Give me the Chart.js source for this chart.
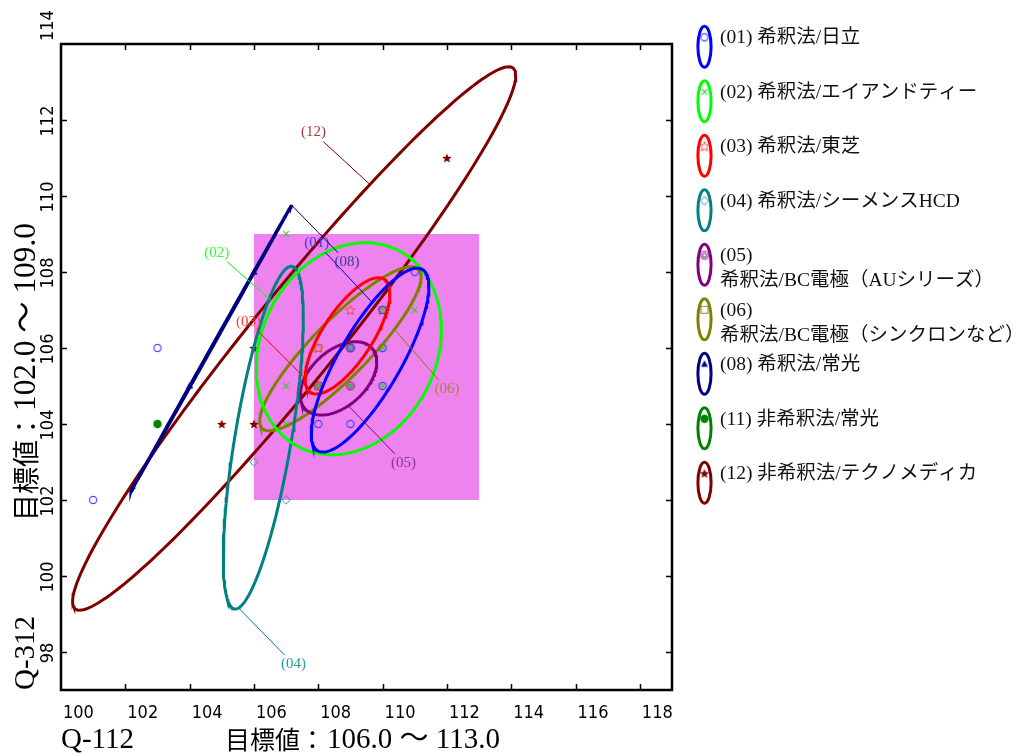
<!DOCTYPE html>
<html>
<head>
<meta charset="utf-8">
<script src="https://cdn.jsdelivr.net/npm/chart.js@4.4.1/dist/chart.umd.min.js"></script>
<style>
  html, body { margin: 0; padding: 0; background: #fff; }
  #wrap { position: relative; width: 1021px; height: 756px; }
</style>
</head>
<body>
<div id="wrap"><canvas id="chart"></canvas></div>
<script>
// axes
const xMin = 100, xMax = 119, yMin = 97, yMax = 114;
const xTicks = [100, 102, 104, 106, 108, 110, 112, 114, 116, 118];
const yTicks = [98, 100, 102, 104, 106, 108, 110, 112, 114];
const targetX = [106, 113];
const targetY = [102, 109];
const xTitleCode = 'Q-112';
const xTitleRange = '目標値：106.0 ～ 113.0';
const yTitleCode = 'Q-312';
const yTitleRange = '目標値：102.0 ～ 109.0';

// series
const codes = ['01', '02', '03', '04', '05', '06', '08', '11', '12'];
const names = ['希釈法/日立', '希釈法/エイアンドティー', '希釈法/東芝', '希釈法/シーメンスHCD',
  '希釈法/BC電極（AUシリーズ）', '希釈法/BC電極（シンクロンなど）', '希釈法/常光', '非希釈法/常光', '非希釈法/テクノメディカ'];
const colors = ['#0000ff', '#00ff00', '#ff0000', '#008080', '#800080', '#808000', '#000080', '#008000', '#800000'];
const markerColors = ['#4444ff', '#33cc33', '#ff4444', '#33a0a0', '#8a2a8a', '#8a8a30', '#000080', '#008000', '#800000'];
const labelColors = ['#3b3bff', '#33ff33', '#ff3b3b', '#2a9a9a', '#8a3a8a', '#a8844a', '#3a3a8a', '#008000', '#a03a3a'];
const markers = ['circle', 'cross', 'starOpen', 'diamond', 'bullseye', 'square', 'triangle', 'dot', 'star'];

// measured points
const x01 = [101, 103, 108, 109, 110, 110, 110, 109, 111];
const y01 = [102, 106, 104, 104, 105, 106, 107, 106, 108];
const x02 = [107, 107, 107, 111, 110, 109, 110, 108, 109, 110];
const y02 = [109, 105, 104, 107, 107, 106, 106, 105, 105, 105];
const x03 = [109, 108, 110, 108];
const y03 = [107, 106, 107, 105];
const x04 = [106, 107];
const y04 = [103, 102];
const x05 = [109, 108, 109];
const y05 = [106, 105, 105];
const x06 = [108, 110, 108];
const y06 = [106, 107, 105];
const x08 = [104, 106];
const y08 = [105, 108];
const x11 = [103];
const y11 = [104];
const x12 = [112, 105, 106, 106];
const y12 = [111, 104, 104, 106];
const pointsX = [x01, x02, x03, x04, x05, x06, x08, x11, x12];
const pointsY = [y01, y02, y03, y04, y05, y06, y08, y11, y12];

// ellipse parameters: centre, half width, half height, correlation
const ellCx = [109.61, 108.95, 108.91, 106.29, 108.63, 108.69, 104.67, null, 107.25];
const ellCy = [105.68, 105.98, 106.32, 103.64, 105.20, 105.98, 105.99, null, 106.25];
const ellWx = [1.83, 2.88, 1.32, 1.245, 1.19, 2.51, 2.50, null, 6.89];
const ellWy = [2.42, 2.79, 1.53, 4.51, 0.965, 2.16, 3.77, null, 7.15];
const ellRho = [0.80, 0.18, 0.73, 0.70, 0.45, 0.88, 0.99997, null, 0.968];

// code labels and the ellipse angle their leader points at
const lblX = [107.95, 104.84, 105.83, 107.23, 110.65, 112.0, 108.89, null, 107.85];
const lblY = [108.76, 108.51, 106.69, 97.68, 102.98, 104.91, 108.27, null, 111.67];
const lblT = [88, 144, 180, 232, 285, 312, 0, null, 70];

function ellipsePoint(i, deg) {
  const t = deg * Math.PI / 180;
  const s = Math.sqrt(1 - ellRho[i] * ellRho[i]);
  return {
    x: ellCx[i] + ellWx[i] * Math.cos(t),
    y: ellCy[i] + ellWy[i] * (ellRho[i] * Math.cos(t) + s * Math.sin(t))
  };
}

function starPath(ctx, cx, cy, ro, ri) {
  ctx.beginPath();
  for (let k = 0; k < 10; k++) {
    const r = k % 2 === 0 ? ro : ri;
    const a = -Math.PI / 2 + k * Math.PI / 5;
    const px = cx + r * Math.cos(a), py = cy + r * Math.sin(a);
    if (k === 0) ctx.moveTo(px, py); else ctx.lineTo(px, py);
  }
  ctx.closePath();
}

function makeMarker(style, color) {
  const c = document.createElement('canvas');
  c.width = 16; c.height = 16;
  const ctx = c.getContext('2d');
  const m = 8;
  ctx.strokeStyle = color;
  ctx.fillStyle = color;
  ctx.lineWidth = 1.2;
  if (style === 'circle') {
    ctx.beginPath(); ctx.arc(m, m, 3.6, 0, Math.PI * 2); ctx.stroke();
  } else if (style === 'cross') {
    ctx.beginPath();
    ctx.moveTo(m - 2.8, m - 2.8); ctx.lineTo(m + 2.8, m + 2.8);
    ctx.moveTo(m + 2.8, m - 2.8); ctx.lineTo(m - 2.8, m + 2.8);
    ctx.stroke();
  } else if (style === 'starOpen') {
    ctx.lineWidth = 1;
    starPath(ctx, m, m + 0.5, 5, 2.3); ctx.stroke();
  } else if (style === 'diamond') {
    ctx.lineWidth = 1;
    ctx.beginPath();
    ctx.moveTo(m, m - 4.2); ctx.lineTo(m + 4.2, m); ctx.lineTo(m, m + 4.2); ctx.lineTo(m - 4.2, m);
    ctx.closePath(); ctx.stroke();
  } else if (style === 'bullseye') {
    ctx.lineWidth = 1.1;
    ctx.beginPath(); ctx.arc(m, m, 4, 0, Math.PI * 2); ctx.stroke();
    ctx.beginPath(); ctx.arc(m, m, 2, 0, Math.PI * 2); ctx.stroke();
  } else if (style === 'square') {
    ctx.lineWidth = 1;
    ctx.strokeRect(m - 3.5, m - 3.5, 7, 7);
  } else if (style === 'triangle') {
    ctx.beginPath();
    ctx.moveTo(m, m - 4); ctx.lineTo(m + 3.5, m + 2.5); ctx.lineTo(m - 3.5, m + 2.5);
    ctx.closePath(); ctx.fill();
  } else if (style === 'dot') {
    ctx.beginPath(); ctx.arc(m, m, 4.2, 0, Math.PI * 2); ctx.fill();
  } else if (style === 'star') {
    starPath(ctx, m, m + 0.5, 5, 2.2); ctx.fill();
  }
  return c;
}

const markerImgs = markers.map((s, i) => makeMarker(s, markerColors[i]));

const datasets = [];
codes.forEach((code, i) => {
  if (ellCx[i] === null) return;
  const pts = [];
  for (let d = 0; d <= 360; d += 2) pts.push(ellipsePoint(i, d));
  datasets.push({
    label: 'ellipse ' + code,
    data: pts,
    showLine: true,
    borderColor: colors[i],
    borderWidth: 3,
    pointRadius: 0,
    fill: false,
    tension: 0
  });
});
codes.forEach((code, i) => {
  datasets.push({
    label: '(' + code + ') ' + names[i],
    data: pointsX[i].map((x, k) => ({ x: x, y: pointsY[i][k] })),
    showLine: false,
    pointStyle: markerImgs[i],
    pointRadius: 5
  });
});

const tickFont = '18px "Liberation Sans Narrow", "DejaVu Sans Condensed", "Arial Narrow", sans-serif';
const serifFont = '"Liberation Serif", "Noto Sans CJK JP", serif';
const cjkFont = '"Noto Sans CJK JP", sans-serif';

// draws "目標値：" in gothic and the numbers in serif, starting at 0,0
function drawRangeTitle(ctx, text, k) {
  const cut = text.indexOf('：') + 1;
  const head = text.slice(0, cut), tail = text.slice(cut);
  ctx.font = (25 * k) + 'px ' + cjkFont;
  ctx.fillText(head, 0, 0);
  const w = ctx.measureText(head).width;
  ctx.font = (29 * k) + 'px ' + serifFont;
  ctx.fillText(tail, w + 2, 1);
}

const decor = {
  id: 'decor',
  beforeDatasetsDraw(chart) {
    const { ctx, scales: { x, y } } = chart;
    ctx.save();
    ctx.fillStyle = '#ee82ee';
    const l = x.getPixelForValue(targetX[0]), r = x.getPixelForValue(targetX[1]);
    const t = y.getPixelForValue(targetY[1]), b = y.getPixelForValue(targetY[0]);
    ctx.fillRect(l, t, r - l, b - t);
    ctx.restore();
  },
  afterDatasetsDraw(chart) {
    const { ctx, chartArea: a, scales: { x, y } } = chart;
    ctx.save();
    // labels and leaders
    ctx.font = '15px ' + serifFont;
    ctx.textAlign = 'center';
    ctx.textBaseline = 'middle';
    codes.forEach((code, i) => {
      if (lblX[i] === null) return;
      const lx = x.getPixelForValue(lblX[i]), ly = y.getPixelForValue(lblY[i]);
      const e = ellipsePoint(i, lblT[i]);
      const ex = x.getPixelForValue(e.x), ey = y.getPixelForValue(e.y);
      const dx = ex - lx, dy = ey - ly;
      const s = Math.min(14 / Math.abs(dx || 1e-6), 9 / Math.abs(dy || 1e-6));
      ctx.strokeStyle = colors[i];
      ctx.lineWidth = 1;
      ctx.beginPath();
      ctx.moveTo(lx + dx * s, ly + dy * s);
      ctx.lineTo(ex, ey);
      ctx.stroke();
      ctx.fillStyle = labelColors[i];
      ctx.fillText('(' + code + ')', lx, ly);
    });
    // frame with inward ticks
    ctx.strokeStyle = '#000';
    ctx.lineWidth = 1.5;
    ctx.beginPath();
    xTicks.forEach(v => {
      const px = Math.round(x.getPixelForValue(v)) + 0.5;
      if (px <= a.left + 2 || px >= a.right - 2) return;
      ctx.moveTo(px, a.bottom); ctx.lineTo(px, a.bottom - 6);
      ctx.moveTo(px, a.top); ctx.lineTo(px, a.top + 6);
    });
    yTicks.forEach(v => {
      const py = Math.round(y.getPixelForValue(v)) + 0.5;
      if (py <= a.top + 2 || py >= a.bottom - 2) return;
      ctx.moveTo(a.left, py); ctx.lineTo(a.left + 6, py);
      ctx.moveTo(a.right, py); ctx.lineTo(a.right - 6, py);
    });
    ctx.stroke();
    ctx.lineWidth = 2.5;
    ctx.strokeRect(a.left, a.top, a.right - a.left, a.bottom - a.top);
    ctx.restore();
  },
  afterDraw(chart) {
    const { ctx, chartArea: a, scales: { x, y } } = chart;
    ctx.save();
    ctx.fillStyle = '#000';
    // tick labels
    ctx.font = tickFont;
    ctx.textBaseline = 'middle';
    ctx.textAlign = 'left';
    xTicks.forEach(v => {
      ctx.fillText(String(v), x.getPixelForValue(v) + 2, a.bottom + 23);
    });
    yTicks.forEach(v => {
      const py = y.getPixelForValue(v);
      ctx.save();
      ctx.translate(a.left - 13, py);
      ctx.rotate(-Math.PI / 2);
      if (py <= a.top + 2) {
        ctx.textAlign = 'left';
        ctx.fillText(String(v), 3, 0);
      } else {
        ctx.textAlign = 'center';
        ctx.fillText(String(v), -1, 0);
      }
      ctx.restore();
    });
    // axis titles
    ctx.textAlign = 'left';
    ctx.font = '29px ' + serifFont;
    ctx.fillText(xTitleCode, a.left, 740);
    ctx.save();
    ctx.translate(225, 739);
    drawRangeTitle(ctx, xTitleRange, 1);
    ctx.restore();
    ctx.save();
    ctx.translate(26, a.bottom);
    ctx.rotate(-Math.PI / 2);
    ctx.font = '29px ' + serifFont;
    ctx.fillText(yTitleCode, 0, 0);
    ctx.translate(169, 0);
    drawRangeTitle(ctx, yTitleRange, 1.08);
    ctx.restore();
    // legend
    ctx.font = '19.5px ' + serifFont;
    codes.forEach((code, i) => {
      const cy = 46.7 + i * 54.5;
      ctx.strokeStyle = colors[i];
      ctx.lineWidth = 3;
      ctx.beginPath();
      ctx.ellipse(704.5, cy, 6.6, 20.5, 0, 0, Math.PI * 2);
      ctx.stroke();
      ctx.drawImage(markerImgs[i], 704.5 - 8, cy - 9.4 - 8);
      ctx.fillStyle = '#111';
      const full = '(' + code + ') ' + names[i];
      if (ctx.measureText(full).width > 296) {
        ctx.fillText('(' + code + ')', 720, cy - 8.4);
        ctx.fillText(names[i], 720, cy + 16.6);
      } else {
        ctx.fillText(full, 720, cy - 8.4);
      }
    });
    ctx.restore();
  }
};

new Chart(document.getElementById('chart'), {
  type: 'scatter',
  data: { datasets: datasets },
  options: {
    responsive: true,
    maintainAspectRatio: false,
    animation: false,
    layout: { padding: { left: 61, top: 44, right: 349, bottom: 66 } },
    scales: {
      x: { type: 'linear', display: false, min: xMin, max: xMax },
      y: { type: 'linear', display: false, min: yMin, max: yMax }
    },
    plugins: {
      legend: { display: false },
      tooltip: { enabled: false }
    }
  },
  plugins: [decor]
});
</script>
</body>
</html>
